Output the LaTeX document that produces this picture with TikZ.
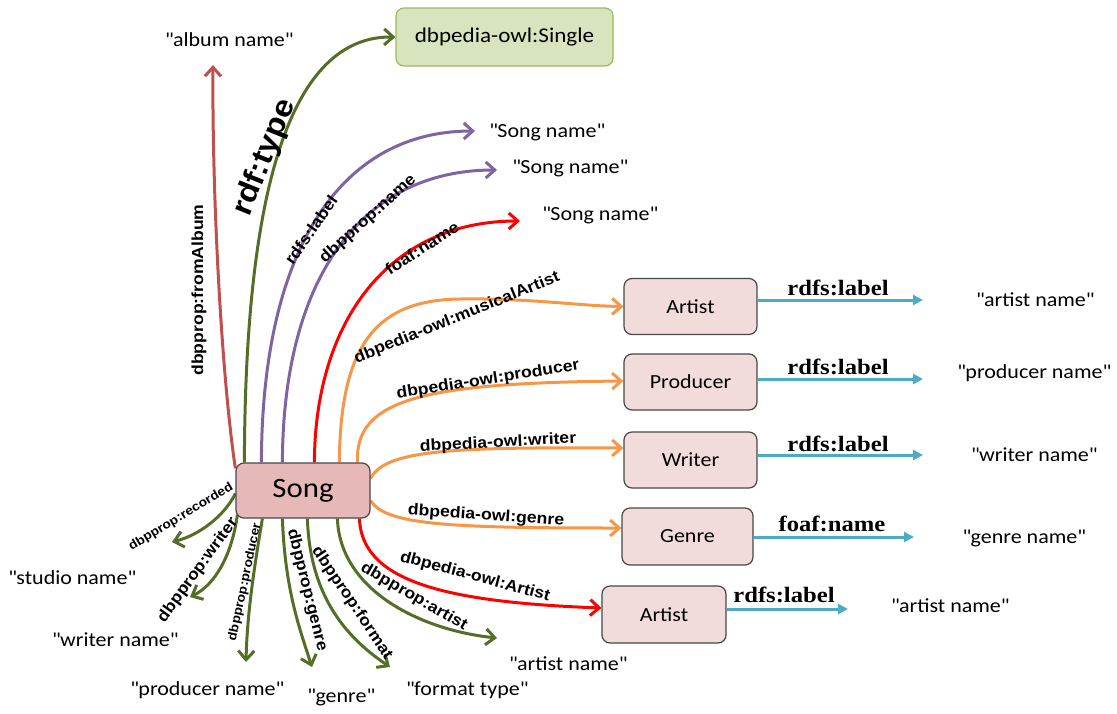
\documentclass[tikz,border=0pt]{standalone}
\usepackage{fontspec}
\setmainfont{Carlito}[FakeStretch=1.1]
\newfontfamily\edgefont{Liberation Sans}[FakeStretch=1.1]
\newfontfamily\predfont{Liberation Serif}[FakeStretch=1.12]
\usetikzlibrary{arrows.meta,backgrounds}

\definecolor{ogreen}{RGB}{84,110,40}
\definecolor{lilac}{RGB}{128,100,162}
\definecolor{brick}{RGB}{192,80,77}
\definecolor{amber}{RGB}{247,150,70}
\definecolor{cyanline}{RGB}{75,172,198}
\definecolor{songfill}{RGB}{230,184,183}
\definecolor{boxfill}{RGB}{242,220,219}
\definecolor{singlefill}{RGB}{215,228,189}
\definecolor{singleedge}{RGB}{155,187,89}

\newcommand\lit[1]{\textquotedbl#1\textquotedbl}

\tikzset{
  box/.style={draw=black!72, line width=1.2pt, rounded corners=8pt, fill=boxfill,
    minimum width=133pt, minimum height=56pt, inner sep=0pt,
    font=\fontsize{20}{24}\selectfont},
  val/.style={inner sep=0pt, font=\fontsize{20}{24}\selectfont},
  elab/.style={inner sep=0pt, font=\edgefont\bfseries\fontsize{16}{19}\selectfont},
  slab/.style={inner sep=0pt, font=\edgefont\bfseries\fontsize{12.5}{15}\selectfont},
  plab/.style={inner sep=0pt, anchor=base, font=\predfont\bfseries\fontsize{22}{26}\selectfont},
  rel/.style={line width=3pt, -{Straight Barb[length=9pt,width=16pt]}},
  attr/.style={line width=3pt, draw=cyanline, -{Triangle[length=10pt,width=10pt]}},
}

\begin{document}
\begin{tikzpicture}[x=1pt,y=-1pt]
\useasboundingbox (0,0) rectangle (1117,713);

% resources
\node[box, fill=songfill, minimum width=134pt, minimum height=55pt,
      font=\fontsize{28}{32}\selectfont] (song) at (303,490.5) {Song};
\node[box, fill=singlefill, draw=singleedge, minimum width=217pt, minimum height=58pt,
      font=\fontsize{21}{25}\selectfont] (single) at (504.5,37) {dbpedia-owl:Single};
\node[box] (artistA) at (690.5,306.5) {Artist};
\node[box] (producer) at (690.5,382) {Producer};
\node[box] (writer) at (690.5,460) {Writer};
\node[box, minimum width=131pt, minimum height=57pt] (genre) at (687.5,536.5) {Genre};
\node[box, minimum width=124pt, minimum height=57pt] (artistB) at (664,614.5) {Artist};

% literal values
\node[val] (album) at (229,40) {\lit{album name}};
\node[val] (sname1) at (547,132) {\lit{Song name}};
\node[val] (sname2) at (570,168) {\lit{Song name}};
\node[val] (sname3) at (600,215) {\lit{Song name}};
\node[val] (aname1) at (1035,300) {\lit{artist name}};
\node[val] (pname1) at (1034,373) {\lit{producer name}};
\node[val] (wname1) at (1034,455) {\lit{writer name}};
\node[val] (gname1) at (1024,538) {\lit{genre name}};
\node[val] (aname2) at (950,606) {\lit{artist name}};
\node[val] (aname3) at (568,664) {\lit{artist name}};
\node[val] (ftype) at (467,690) {\lit{format type}};
\node[val] (gname2) at (341,697) {\lit{genre}};
\node[val] (pname2) at (207,690) {\lit{producer name}};
\node[val] (wname2) at (115,640) {\lit{writer name}};
\node[val] (studio) at (72,578) {\lit{studio name}};

% free arrow ends
\coordinate (eAlbum) at (213,65);
\coordinate (eLabel) at (475,131);
\coordinate (eName) at (497,170);
\coordinate (eFoaf) at (520,221);
\coordinate (eRec) at (172,542);
\coordinate (eWri) at (190,597);
\coordinate (ePro) at (246,662);
\coordinate (eGen) at (312,667);
\coordinate (eFmt) at (390,667);
\coordinate (eArt) at (497,638);
\coordinate (bA) at (923,300);
\coordinate (bP) at (923,379);
\coordinate (bW) at (923,455);
\coordinate (bG) at (914,537);
\coordinate (bB) at (848,609);

\begin{scope}[on background layer]
  % upward properties
  \draw[rel, brick] ([yshift=-6pt]song.north west) .. controls (222,380) and (212,200) .. (eAlbum);
  \draw[rel, ogreen] ([xshift=9pt]song.north west) .. controls (245,190) and (290,36) .. (single.west);
  \draw[rel, lilac] ([xshift=26pt]song.north west) .. controls (262,250) and (340,131) .. (eLabel);
  \draw[rel, lilac] ([xshift=47pt]song.north west) .. controls (283,280) and (360,170) .. (eName);
  \draw[rel, red] ([xshift=79pt]song.north west) .. controls (315,320) and (390,221) .. (eFoaf);
  % object properties to the right
  \draw[rel, amber] ([xshift=104pt]song.north west) .. controls (340,340) and (380,300) .. (460,299)
        .. controls (530,298) and (580,306) .. (artistA.west);
  \draw[rel, amber] ([xshift=122pt]song.north west) .. controls (355,400) and (420,383) .. (producer.west |- 0,381);
  \draw[rel, amber] ([yshift=12pt]song.east) .. controls (385,450) and (450,447) .. (writer.west |- 0,448);
  \draw[rel, amber] ([yshift=-10pt]song.east) .. controls (385,525) and (450,528) .. (genre.west |- 0,528);
  \draw[rel, red] ([xshift=124pt]song.south west) .. controls (362,580) and (440,602) .. (artistB.west |- 0,608);
  % downward properties
  \draw[rel, ogreen] ([xshift=102pt]song.south west) .. controls (340,590) and (420,630) .. (eArt);
  \draw[rel, ogreen] ([xshift=72pt]song.south west) .. controls (310,600) and (350,640) .. (eFmt);
  \draw[rel, ogreen] ([xshift=47pt]song.south west) .. controls (285,590) and (300,630) .. (eGen);
  \draw[rel, ogreen] ([xshift=27pt]song.south west) .. controls (252,580) and (247,620) .. (ePro);
  \draw[rel, ogreen] ([xshift=2pt,yshift=4pt]song.south west) .. controls (232,555) and (215,585) .. (eWri);
  \draw[rel, ogreen] ([yshift=-3pt]song.west) .. controls (225,515) and (200,535) .. (eRec);
\end{scope}

% literal properties of the linked resources
\draw[attr] (artistA.east |- bA) -- (bA);
\draw[attr] (producer.east |- bP) -- (bP);
\draw[attr] (writer.east |- bW) -- (bW);
\draw[attr] (genre.east |- bG) -- (bG);
\draw[attr] (artistB.east |- bB) -- (bB);
\node[plab] (pA) at (838,295) {rdfs:label};
\node[plab] (pP) at (838,374) {rdfs:label};
\node[plab] (pW) at (838,451) {rdfs:label};
\node[plab] (pG) at (832,531) {foaf:name};
\node[plab] (pB) at (784,602) {rdfs:label};

% property names along the arrows
\node[elab, rotate=90] (lAlbum) at (199,290) {dbpprop:fromAlbum};
\node[elab, rotate=68, font=\edgefont\bfseries\fontsize{30}{34}\selectfont] (lType) at (265,158) {rdf:type};
\node[elab, rotate=55] (lLabel) at (311,230) {rdfs:label};
\node[elab, rotate=42] (lName) at (368,219) {dbpprop:name};
\node[elab, rotate=33] (lFoaf) at (422,248) {foaf:name};
\node[elab, rotate=22] (lMus) at (457,318) {dbpedia-owl:musicalArtist};
\node[elab, rotate=9] (lProd) at (488,380) {dbpedia-owl:producer};
\node[elab, rotate=3] (lWri) at (498,443) {dbpedia-owl:writer};
\node[elab, rotate=-4] (lGen) at (486,516) {dbpedia-owl:genre};
\node[elab, rotate=-15] (lArt) at (475,577) {dbpedia-owl:Artist};
\node[elab, rotate=-30] (lDArt) at (414,597) {dbpprop:artist};
\node[elab, rotate=-56] (lFmt) at (352,603) {dbpprop:format};
\node[elab, rotate=-76] (lDGen) at (307,590) {dbpprop:genre};
\node[slab, rotate=78] (lDPro) at (245,582) {dbpprop:producer};
\node[elab, rotate=54] (lDWri) at (198,570) {dbpprop:writer};
\node[slab, rotate=31] (lRec) at (181,517) {dbpprop:recorded};
\end{tikzpicture}
\end{document}
